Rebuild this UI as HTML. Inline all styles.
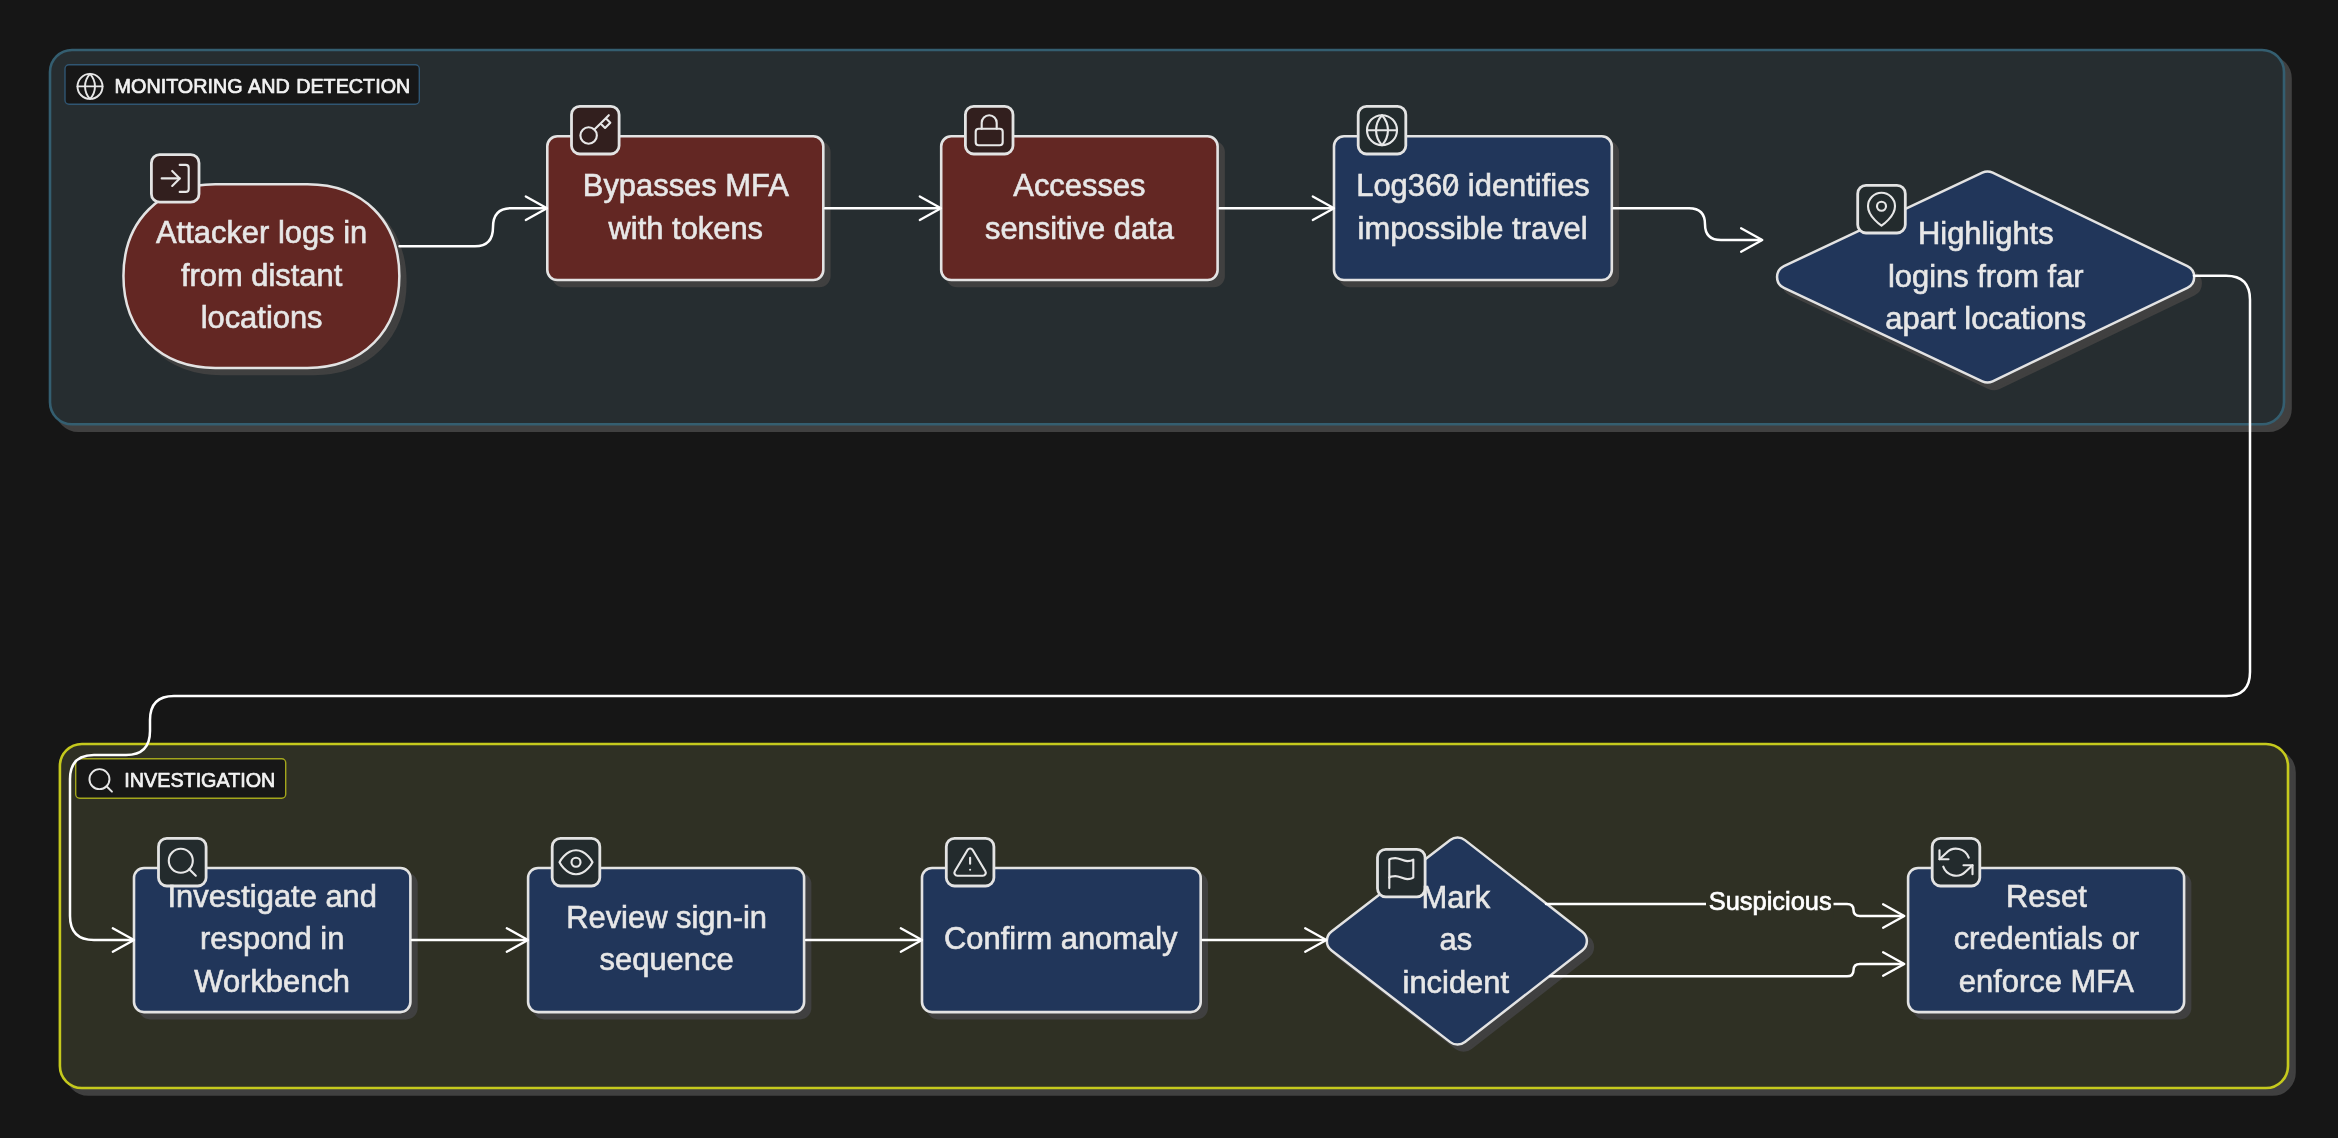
<!DOCTYPE html><html><head><meta charset="utf-8"><title>Impossible travel flow</title><style>html,body{margin:0;padding:0;background:#161616;}svg{display:block;will-change:transform}text{filter:grayscale(1)}text{font-family:"Liberation Sans",sans-serif;}</style></head><body>
<svg width="2338" height="1138" viewBox="0 0 2338 1138">
<rect width="2338" height="1138" fill="#161616"/>
<rect x="56.5" y="56.5" width="2234" height="374.3" rx="22" fill="#404040" stroke="#404040" stroke-width="2.6"/>
<rect x="50" y="50" width="2234" height="374.3" rx="22" fill="#262d30" stroke="#345e70" stroke-width="2.6"/>
<rect x="66.4" y="750.5" width="2228.1" height="344" rx="22" fill="#404040" stroke="#404040" stroke-width="2.6"/>
<rect x="59.9" y="744" width="2228.1" height="344" rx="22" fill="#2f3024" stroke="#c5c91d" stroke-width="2.6"/>
<rect x="65" y="64.8" width="354.3" height="39.5" rx="4" fill="#171717" stroke="#305673" stroke-width="1.4"/>
<g transform="translate(75.00,71.40) scale(1.2500)" fill="none" stroke="#e7e7e7" stroke-width="1.55" stroke-linecap="round" stroke-linejoin="round"><circle cx="12" cy="12" r="10"/><path d="M2 12h20"/><path d="M12 2a15.3 15.3 0 0 1 4 10 15.3 15.3 0 0 1-4 10 15.3 15.3 0 0 1-4-10 15.3 15.3 0 0 1 4-10z"/></g>
<text x="114.6" y="92.6" word-spacing="1.0" font-size="19.75" fill="#f2f2f2" stroke="#f2f2f2" stroke-width="0.7" stroke-linejoin="round">MONITORING AND DETECTION</text>
<rect x="75.7" y="758.8" width="210" height="39.5" rx="4" fill="#171717" stroke="#a3a61c" stroke-width="1.4"/>
<g transform="translate(85.70,765.40) scale(1.2500)" fill="none" stroke="#e7e7e7" stroke-width="1.55" stroke-linecap="round" stroke-linejoin="round"><circle cx="11" cy="11" r="8"/><path d="M21 21l-4.35-4.35"/></g>
<text x="124.30000000000001" y="786.5999999999999" word-spacing="0" font-size="19.75" fill="#f2f2f2" stroke="#f2f2f2" stroke-width="0.7" stroke-linejoin="round">INVESTIGATION</text>
<path d="M215.30,184.25 H307.50 C362.61,184.25 399.35,220.99 399.35,276.10 C399.35,331.21 362.61,367.95 307.50,367.95 H215.30 C160.19,367.95 123.45,331.21 123.45,276.10 C123.45,220.99 160.19,184.25 215.30,184.25 Z" transform="translate(6,6)" fill="#404040" stroke="#404040" stroke-width="2.5"/>
<path d="M215.30,184.25 H307.50 C362.61,184.25 399.35,220.99 399.35,276.10 C399.35,331.21 362.61,367.95 307.50,367.95 H215.30 C160.19,367.95 123.45,331.21 123.45,276.10 C123.45,220.99 160.19,184.25 215.30,184.25 Z" fill="#632723" stroke="#e3e3e3" stroke-width="2.5"/>
<rect x="151.4" y="154.6" width="47.6" height="47.6" rx="8.3" fill="#321f1e" stroke="#e3e3e3" stroke-width="2.8"/>
<g transform="translate(157.20,160.40) scale(1.5000)" fill="none" stroke="#e7e7e7" stroke-width="1.42" stroke-linecap="round" stroke-linejoin="round"><path d="M15 3h4a2 2 0 0 1 2 2v14a2 2 0 0 1-2 2h-4"/><path d="M10 17l5-5-5-5"/><path d="M15 12H3"/></g>
<text x="261.6" y="243.3" text-anchor="middle" font-size="30.9" fill="#e7e7e7" stroke="#e7e7e7" stroke-width="0.6">Attacker logs in</text>
<text x="261.6" y="285.5" text-anchor="middle" font-size="30.9" fill="#e7e7e7" stroke="#e7e7e7" stroke-width="0.6">from distant</text>
<text x="261.6" y="327.7" text-anchor="middle" font-size="30.9" fill="#e7e7e7" stroke="#e7e7e7" stroke-width="0.6">locations</text>
<rect x="553.3" y="142.3" width="276.0" height="143.70000000000002" rx="10" fill="#404040" stroke="#404040" stroke-width="2.6"/>
<rect x="547.3" y="136.3" width="276.0" height="143.70000000000002" rx="10" fill="#632723" stroke="#e3e3e3" stroke-width="2.6"/>
<rect x="571.5" y="106.4" width="47.6" height="47.6" rx="8.3" fill="#321f1e" stroke="#e3e3e3" stroke-width="2.8"/>
<g transform="translate(577.30,112.20) scale(1.5000)" fill="none" stroke="#e7e7e7" stroke-width="1.42" stroke-linecap="round" stroke-linejoin="round"><path d="M21 2l-2 2m-7.61 7.61a5.5 5.5 0 1 1-7.778 7.778 5.5 5.5 0 0 1 7.777-7.777zm0 0L15.5 7.5m0 0l3 3L22 7l-3-3m-3.5 3.5L19 4"/></g>
<text x="685.8" y="196.3" text-anchor="middle" font-size="30.9" fill="#e7e7e7" stroke="#e7e7e7" stroke-width="0.6">Bypasses MFA</text>
<text x="685.8" y="238.5" text-anchor="middle" font-size="30.9" fill="#e7e7e7" stroke="#e7e7e7" stroke-width="0.6">with tokens</text>
<rect x="947.1999999999999" y="142.3" width="276.4000000000001" height="143.70000000000002" rx="10" fill="#404040" stroke="#404040" stroke-width="2.6"/>
<rect x="941.1999999999999" y="136.3" width="276.4000000000001" height="143.70000000000002" rx="10" fill="#632723" stroke="#e3e3e3" stroke-width="2.6"/>
<rect x="965.4" y="106.4" width="47.6" height="47.6" rx="8.3" fill="#321f1e" stroke="#e3e3e3" stroke-width="2.8"/>
<g transform="translate(971.20,112.20) scale(1.5000)" fill="none" stroke="#e7e7e7" stroke-width="1.42" stroke-linecap="round" stroke-linejoin="round"><rect width="18" height="11" x="3" y="11" rx="2" ry="2"/><path d="M7 11V7a5 5 0 0 1 10 0v4"/></g>
<text x="1079.4" y="196.3" text-anchor="middle" font-size="30.9" fill="#e7e7e7" stroke="#e7e7e7" stroke-width="0.6">Accesses</text>
<text x="1079.4" y="238.5" text-anchor="middle" font-size="30.9" fill="#e7e7e7" stroke="#e7e7e7" stroke-width="0.6">sensitive data</text>
<rect x="1340.0" y="142.3" width="277.79999999999984" height="143.70000000000002" rx="10" fill="#404040" stroke="#404040" stroke-width="2.6"/>
<rect x="1334.0" y="136.3" width="277.79999999999984" height="143.70000000000002" rx="10" fill="#21365a" stroke="#e3e3e3" stroke-width="2.6"/>
<rect x="1358.2" y="106.4" width="47.6" height="47.6" rx="8.3" fill="#232b2d" stroke="#e3e3e3" stroke-width="2.8"/>
<g transform="translate(1364.00,112.20) scale(1.5000)" fill="none" stroke="#e7e7e7" stroke-width="1.42" stroke-linecap="round" stroke-linejoin="round"><circle cx="12" cy="12" r="10"/><path d="M2 12h20"/><path d="M12 2a15.3 15.3 0 0 1 4 10 15.3 15.3 0 0 1-4 10 15.3 15.3 0 0 1-4-10 15.3 15.3 0 0 1 4-10z"/></g>
<text x="1473" y="196.3" text-anchor="middle" font-size="30.9" fill="#e7e7e7" stroke="#e7e7e7" stroke-width="0.6">Log360 identifies</text>
<path d="M1446.4,192.2 L1455.0,178.6" stroke="#e7e7e7" stroke-width="2.1" stroke-linecap="round" fill="none"/>
<text x="1472.6" y="238.5" text-anchor="middle" font-size="30.9" fill="#e7e7e7" stroke="#e7e7e7" stroke-width="0.6">impossible travel</text>
<path d="M1783.93,287.85 A12,12 0 0 1 1783.93,266.15 L1982.34,172.63 A12,12 0 0 1 1992.65,172.67 L2187.37,266.18 A12,12 0 0 1 2187.37,287.82 L1992.65,381.33 A12,12 0 0 1 1982.34,381.37 Z" transform="translate(6.5,6.5)" fill="#404040" stroke="#404040" stroke-width="2.5"/>
<path d="M1783.93,287.85 A12,12 0 0 1 1783.93,266.15 L1982.34,172.63 A12,12 0 0 1 1992.65,172.67 L2187.37,266.18 A12,12 0 0 1 2187.37,287.82 L1992.65,381.33 A12,12 0 0 1 1982.34,381.37 Z" fill="#21365a" stroke="#e3e3e3" stroke-width="2.5"/>
<rect x="1857.7" y="185.4" width="47.6" height="47.6" rx="8.3" fill="#232b2d" stroke="#e3e3e3" stroke-width="2.8"/>
<g transform="translate(1863.50,191.20) scale(1.5000)" fill="none" stroke="#e7e7e7" stroke-width="1.42" stroke-linecap="round" stroke-linejoin="round"><path d="M21 10c0 7-9 13-9 13s-9-6-9-13a9 9 0 0 1 18 0z"/><circle cx="12" cy="10" r="3"/></g>
<text x="1985.8" y="243.9" text-anchor="middle" font-size="30.9" fill="#e7e7e7" stroke="#e7e7e7" stroke-width="0.6">Highlights</text>
<text x="1985.8" y="286.5" text-anchor="middle" font-size="30.9" fill="#e7e7e7" stroke="#e7e7e7" stroke-width="0.6">logins from far</text>
<text x="1985.8" y="329.1" text-anchor="middle" font-size="30.9" fill="#e7e7e7" stroke="#e7e7e7" stroke-width="0.6">apart locations</text>
<rect x="140.0" y="874.0" width="276.4" height="144.09999999999994" rx="10" fill="#404040" stroke="#404040" stroke-width="2.6"/>
<rect x="134.0" y="868.0" width="276.4" height="144.09999999999994" rx="10" fill="#21365a" stroke="#e3e3e3" stroke-width="2.6"/>
<rect x="158.5" y="838.4" width="47.6" height="47.6" rx="8.3" fill="#232b2d" stroke="#e3e3e3" stroke-width="2.8"/>
<g transform="translate(164.30,844.20) scale(1.5000)" fill="none" stroke="#e7e7e7" stroke-width="1.42" stroke-linecap="round" stroke-linejoin="round"><circle cx="11" cy="11" r="8"/><path d="M21 21l-4.35-4.35"/></g>
<text x="272.2" y="906.7" text-anchor="middle" font-size="30.9" fill="#e7e7e7" stroke="#e7e7e7" stroke-width="0.6">Investigate and</text>
<text x="272.2" y="949.2" text-anchor="middle" font-size="30.9" fill="#e7e7e7" stroke="#e7e7e7" stroke-width="0.6">respond in</text>
<text x="272.2" y="991.8" text-anchor="middle" font-size="30.9" fill="#e7e7e7" stroke="#e7e7e7" stroke-width="0.6">Workbench</text>
<rect x="534.0999999999999" y="874.0" width="276.0" height="144.09999999999994" rx="10" fill="#404040" stroke="#404040" stroke-width="2.6"/>
<rect x="528.0999999999999" y="868.0" width="276.0" height="144.09999999999994" rx="10" fill="#21365a" stroke="#e3e3e3" stroke-width="2.6"/>
<rect x="552.1999999999999" y="838.4" width="47.6" height="47.6" rx="8.3" fill="#232b2d" stroke="#e3e3e3" stroke-width="2.8"/>
<g transform="translate(558.00,844.20) scale(1.5000)" fill="none" stroke="#e7e7e7" stroke-width="1.42" stroke-linecap="round" stroke-linejoin="round"><path d="M1 12s4-8 11-8 11 8 11 8-4 8-11 8-11-8-11-8z"/><circle cx="12" cy="12" r="3"/></g>
<text x="666.6" y="928" text-anchor="middle" font-size="30.9" fill="#e7e7e7" stroke="#e7e7e7" stroke-width="0.6">Review sign-in</text>
<text x="666.6" y="970.4" text-anchor="middle" font-size="30.9" fill="#e7e7e7" stroke="#e7e7e7" stroke-width="0.6">sequence</text>
<rect x="928.0" y="874.0" width="278.69999999999993" height="144.09999999999994" rx="10" fill="#404040" stroke="#404040" stroke-width="2.6"/>
<rect x="922.0" y="868.0" width="278.69999999999993" height="144.09999999999994" rx="10" fill="#21365a" stroke="#e3e3e3" stroke-width="2.6"/>
<rect x="946.3" y="838.4" width="47.6" height="47.6" rx="8.3" fill="#232b2d" stroke="#e3e3e3" stroke-width="2.8"/>
<g transform="translate(952.10,844.20) scale(1.5000)" fill="none" stroke="#e7e7e7" stroke-width="1.42" stroke-linecap="round" stroke-linejoin="round"><path d="M10.29 3.86L1.82 18a2 2 0 0 0 1.71 3h16.94a2 2 0 0 0 1.71-3L13.71 3.86a2 2 0 0 0-3.42 0z"/><path d="M12 9v4"/><path d="M12 17h.01"/></g>
<text x="1060.8" y="949.2" text-anchor="middle" font-size="30.9" fill="#e7e7e7" stroke="#e7e7e7" stroke-width="0.6">Confirm anomaly</text>
<path d="M1331.53,950.60 A12,12 0 0 1 1331.53,931.60 L1450.23,840.08 A12,12 0 0 1 1464.94,840.12 L1582.27,931.64 A12,12 0 0 1 1582.27,950.56 L1464.94,1042.08 A12,12 0 0 1 1450.23,1042.12 Z" transform="translate(6,6)" fill="#404040" stroke="#404040" stroke-width="2.5"/>
<path d="M1331.53,950.60 A12,12 0 0 1 1331.53,931.60 L1450.23,840.08 A12,12 0 0 1 1464.94,840.12 L1582.27,931.64 A12,12 0 0 1 1582.27,950.56 L1464.94,1042.08 A12,12 0 0 1 1450.23,1042.12 Z" fill="#21365a" stroke="#e3e3e3" stroke-width="2.5"/>
<rect x="1377.5" y="849.3" width="47.6" height="47.6" rx="8.3" fill="#232b2d" stroke="#e3e3e3" stroke-width="2.8"/>
<g transform="translate(1383.30,855.10) scale(1.5000)" fill="none" stroke="#e7e7e7" stroke-width="1.42" stroke-linecap="round" stroke-linejoin="round"><path d="M4 15s1-1 4-1 5 2 8 2 4-1 4-1V3s-1 1-4 1-5-2-8-2-4 1-4 1z"/><path d="M4 22v-7"/></g>
<text x="1455.8" y="907.8" text-anchor="middle" font-size="30.9" fill="#e7e7e7" stroke="#e7e7e7" stroke-width="0.6">Mark</text>
<text x="1455.8" y="950.1" text-anchor="middle" font-size="30.9" fill="#e7e7e7" stroke="#e7e7e7" stroke-width="0.6">as</text>
<text x="1455.8" y="992.6" text-anchor="middle" font-size="30.9" fill="#e7e7e7" stroke="#e7e7e7" stroke-width="0.6">incident</text>
<rect x="1914.1" y="874.0" width="276.0000000000001" height="144.09999999999994" rx="10" fill="#404040" stroke="#404040" stroke-width="2.6"/>
<rect x="1908.1" y="868.0" width="276.0000000000001" height="144.09999999999994" rx="10" fill="#21365a" stroke="#e3e3e3" stroke-width="2.6"/>
<rect x="1932.2" y="838.4" width="47.6" height="47.6" rx="8.3" fill="#232b2d" stroke="#e3e3e3" stroke-width="2.8"/>
<g transform="translate(1938.00,844.20) scale(1.5000)" fill="none" stroke="#e7e7e7" stroke-width="1.42" stroke-linecap="round" stroke-linejoin="round"><path d="M1 4v6h6"/><path d="M23 20v-6h-6"/><path d="M20.49 9A9 9 0 0 0 5.64 5.64L1 10m22 4l-4.64 4.36A9 9 0 0 1 3.51 15"/></g>
<text x="2046.4" y="906.7" text-anchor="middle" font-size="30.9" fill="#e7e7e7" stroke="#e7e7e7" stroke-width="0.6">Reset</text>
<text x="2046.4" y="949.2" text-anchor="middle" font-size="30.9" fill="#e7e7e7" stroke="#e7e7e7" stroke-width="0.6">credentials or</text>
<text x="2046.4" y="991.8" text-anchor="middle" font-size="30.9" fill="#e7e7e7" stroke="#e7e7e7" stroke-width="0.6">enforce MFA</text>
<path d="M399.5,246.2 H475 Q493,246.2 493,227.2 Q493,208.2 511,208.2 H545.5" fill="none" stroke="#ffffff" stroke-width="2.5" stroke-linecap="round" stroke-linejoin="round"/>
<path d="M525.8,196.39999999999998 L547,208.2 L525.8,220.0" fill="none" stroke="#ffffff" stroke-width="2.3" stroke-linecap="round" stroke-linejoin="round"/>
<path d="M825,208.2 H939.5" fill="none" stroke="#ffffff" stroke-width="2.5" stroke-linecap="round" stroke-linejoin="round"/>
<path d="M919.8,196.39999999999998 L941,208.2 L919.8,220.0" fill="none" stroke="#ffffff" stroke-width="2.3" stroke-linecap="round" stroke-linejoin="round"/>
<path d="M1219.5,208.2 H1332.5" fill="none" stroke="#ffffff" stroke-width="2.5" stroke-linecap="round" stroke-linejoin="round"/>
<path d="M1312.8,196.39999999999998 L1334,208.2 L1312.8,220.0" fill="none" stroke="#ffffff" stroke-width="2.3" stroke-linecap="round" stroke-linejoin="round"/>
<path d="M1613.5,208.2 H1689 Q1705,208.2 1705,224.2 Q1705,240 1721,240 H1761" fill="none" stroke="#ffffff" stroke-width="2.5" stroke-linecap="round" stroke-linejoin="round"/>
<path d="M1741.1,228.2 L1762.3,240 L1741.1,251.8" fill="none" stroke="#ffffff" stroke-width="2.3" stroke-linecap="round" stroke-linejoin="round"/>
<path d="M2194,275.7 H2226 Q2250,275.7 2250,299.7 V672 Q2250,696 2226,696 H174 Q150,696 150,720 V731 Q150,755 126,755 H94 Q70,755 70,779 V916 Q70,940 94,940 H132.5" fill="none" stroke="#ffffff" stroke-width="2.5" stroke-linecap="round" stroke-linejoin="round"/>
<path d="M112.8,928.2 L134,940 L112.8,951.8" fill="none" stroke="#ffffff" stroke-width="2.3" stroke-linecap="round" stroke-linejoin="round"/>
<path d="M412,940 H526.5" fill="none" stroke="#ffffff" stroke-width="2.5" stroke-linecap="round" stroke-linejoin="round"/>
<path d="M506.8,928.2 L528,940 L506.8,951.8" fill="none" stroke="#ffffff" stroke-width="2.3" stroke-linecap="round" stroke-linejoin="round"/>
<path d="M806,940 H920.5" fill="none" stroke="#ffffff" stroke-width="2.5" stroke-linecap="round" stroke-linejoin="round"/>
<path d="M900.8,928.2 L922,940 L900.8,951.8" fill="none" stroke="#ffffff" stroke-width="2.3" stroke-linecap="round" stroke-linejoin="round"/>
<path d="M1202.5,940 H1325" fill="none" stroke="#ffffff" stroke-width="2.5" stroke-linecap="round" stroke-linejoin="round"/>
<path d="M1305.2,928.2 L1326.4,940 L1305.2,951.8" fill="none" stroke="#ffffff" stroke-width="2.3" stroke-linecap="round" stroke-linejoin="round"/>
<path d="M1546,904 H1847 Q1853.5,904 1853.5,910 Q1853.5,916 1860,916 H1903" fill="none" stroke="#ffffff" stroke-width="2.5" stroke-linecap="round" stroke-linejoin="round"/>
<path d="M1883.1,904.2 L1904.3,916 L1883.1,927.8" fill="none" stroke="#ffffff" stroke-width="2.3" stroke-linecap="round" stroke-linejoin="round"/>
<path d="M1550,976.3 H1847 Q1853.5,976.3 1853.5,970.2 Q1853.5,964 1860,964 H1903" fill="none" stroke="#ffffff" stroke-width="2.5" stroke-linecap="round" stroke-linejoin="round"/>
<path d="M1883.1,952.2 L1904.3,964 L1883.1,975.8" fill="none" stroke="#ffffff" stroke-width="2.3" stroke-linecap="round" stroke-linejoin="round"/>
<rect x="1706" y="888" width="127.5" height="30" fill="#2f3024"/>
<text x="1770.2" y="910.4" text-anchor="middle" font-size="25.4" fill="#ffffff" stroke="#ffffff" stroke-width="0.7">Suspicious</text>
</svg></body></html>
